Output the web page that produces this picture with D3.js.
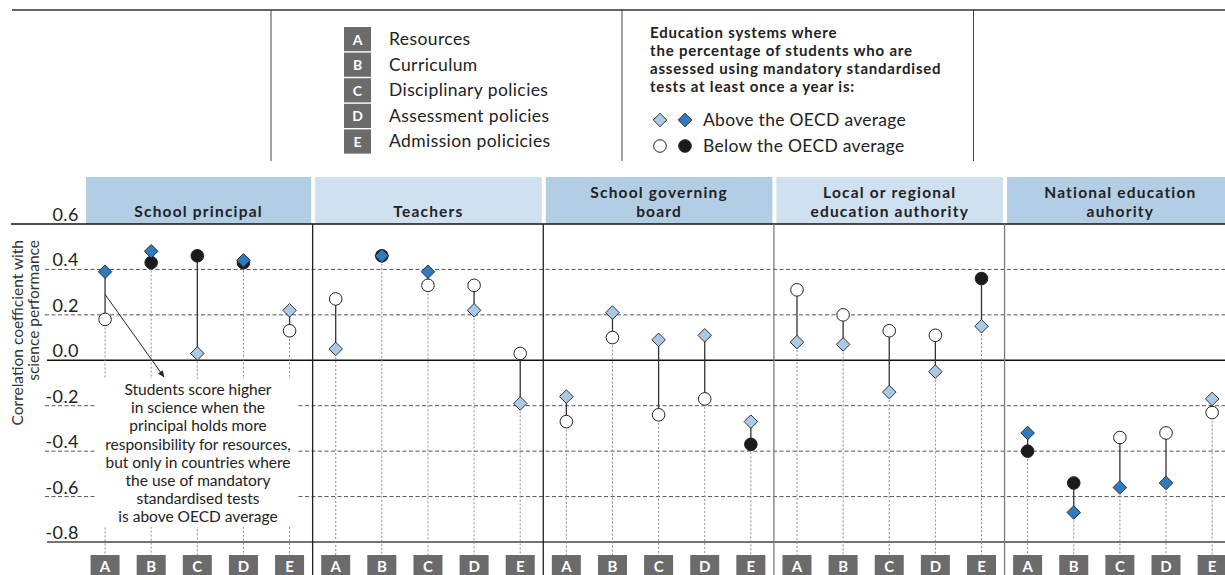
<!DOCTYPE html>
<html>
<head>
<meta charset="utf-8">
<script src="https://cdn.jsdelivr.net/npm/d3@7"></script>
<style>
  html, body { margin: 0; padding: 0; background: #fff; }
  svg { display: block; font-family: Lato, "Open Sans", sans-serif; }
</style>
</head>
<body>
<svg id="chart" width="1225" height="575"></svg>
<script>
// Policy areas (A–E) and who holds responsibility for them
const categories = ["A", "B", "C", "D", "E"];
const categoryNames = ["Resources", "Curriculum", "Disciplinary policies", "Assessment policies", "Admission policicies"];
const actors = ["School principal", "Teachers", "School governing board", "Local or regional education authority", "National education auhority"];
const actorHeaderLines = [["School principal"], ["Teachers"], ["School governing", "board"], ["Local or regional", "education authority"], ["National education", "auhority"]];

// Correlation with science performance, systems above the OECD average in use of mandatory tests
const aboveValues = [
  [0.39, 0.48, 0.03, 0.44, 0.22],
  [0.05, 0.46, 0.39, 0.22, -0.19],
  [-0.16, 0.21, 0.09, 0.11, -0.27],
  [0.08, 0.07, -0.14, -0.05, 0.15],
  [-0.32, -0.67, -0.56, -0.54, -0.17]
];
const aboveSignificant = [
  [1, 1, 0, 1, 0],
  [0, 1, 1, 0, 0],
  [0, 0, 0, 0, 0],
  [0, 0, 0, 0, 0],
  [1, 1, 1, 1, 0]
];
// Same, systems below the OECD average
const belowValues = [
  [0.18, 0.43, 0.46, 0.43, 0.13],
  [0.27, 0.46, 0.33, 0.33, 0.03],
  [-0.27, 0.10, -0.24, -0.17, -0.37],
  [0.31, 0.20, 0.13, 0.11, 0.36],
  [-0.40, -0.54, -0.34, -0.32, -0.23]
];
const belowSignificant = [
  [0, 1, 1, 1, 0],
  [0, 1, 0, 0, 0],
  [0, 0, 0, 0, 1],
  [0, 0, 0, 0, 1],
  [1, 1, 0, 0, 0]
];

const yTicks = [0.6, 0.4, 0.2, 0.0, -0.2, -0.4, -0.6, -0.8];
const yTickLabels = ["0.6", "0.4", "0.2", "0.0", "-0.2", "-0.4", "-0.6", "-0.8"];
const yTitleLines = ["Correlation coefficient with", "science performance"];
const annotationLines = [
  "Students score higher", "in science when the", "principal holds more",
  "responsibility for resources,", "but only in countries where",
  "the use of mandatory", "standardised tests", "is above OECD average"
];
const legendHeading = ["Education systems where", "the percentage of students who are", "assessed using mandatory standardised", "tests at least once a year is:"];
const legendSeries = ["Above the OECD average", "Below the OECD average"];

const colors = {
  lightDiamond: "#a9c9e6",
  darkDiamond: "#2f7bbd",
  whiteCircle: "#ffffff",
  blackCircle: "#1b1b1b",
  headerDark: "#b2cee5",
  headerLight: "#cfe1f0",
  tagBox: "#6b6b6b",
  text: "#222"
};

const W = 1225;
const svg = d3.select("#chart");

// Scales
const xPanel = d3.scaleBand().domain(actors).range([82, 1235.2]);
const xCat = d3.scaleBand().domain(categories).range([0, xPanel.bandwidth()]);
const cx = (a, c) => xPanel(actors[a]) + xCat(categories[c]) + xCat.bandwidth() / 2;
const y = d3.scaleLinear().domain([-0.8, 0.6]).range([542, 224]);

// Marker shapes: a square turned 45 degrees, and a circle
const diamondPath = d3.symbol().type(d3.symbolSquare).size(92)();
function drawDiamond(g, x, yy, fill) {
  g.append("path").attr("d", diamondPath).attr("transform", `translate(${x},${yy}) rotate(45)`)
    .attr("fill", fill).attr("stroke", "#2a2a2a").attr("stroke-width", 0.9);
}
function drawCircle(g, x, yy, fill) {
  g.append("circle").attr("cx", x).attr("cy", yy).attr("r", 6.3)
    .attr("fill", fill).attr("stroke", "#222").attr("stroke-width", 1);
}

// ---------- Legend block ----------
svg.append("line").attr("x1", 12).attr("x2", W).attr("y1", 10).attr("y2", 10)
  .attr("stroke", "#333").attr("stroke-width", 1.5);
[271, 622, 973.5].forEach(x => {
  svg.append("line").attr("x1", x).attr("x2", x).attr("y1", 10).attr("y2", 161)
    .attr("stroke", "#444").attr("stroke-width", 1);
});

const leg1 = svg.append("g");
categories.forEach((c, i) => {
  const top = 27 + i * 25.6;
  leg1.append("rect").attr("x", 344).attr("y", top).attr("width", 27).attr("height", 24.2)
    .attr("fill", colors.tagBox);
  leg1.append("text").attr("x", 357.5).attr("y", top + 17.5).attr("text-anchor", "middle")
    .attr("fill", "#fff").attr("font-weight", "bold").attr("font-size", 14).text(c);
  leg1.append("text").attr("x", 389).attr("y", top + 18).attr("fill", colors.text)
    .attr("font-size", 17.5).attr("letter-spacing", 0.4).text(categoryNames[i]);
});

const leg2 = svg.append("g");
const heading = leg2.append("text").attr("fill", colors.text)
  .attr("font-weight", "bold").attr("font-size", 15).attr("letter-spacing", 0.8);
legendHeading.forEach((t, i) => {
  heading.append("tspan").attr("x", 650).attr("y", 38 + i * 18).text(t);
});
drawDiamond(leg2, 660, 120, colors.lightDiamond);
drawDiamond(leg2, 685, 120, colors.darkDiamond);
drawCircle(leg2, 660, 146, colors.whiteCircle);
drawCircle(leg2, 685, 146, colors.blackCircle);
legendSeries.forEach((t, i) => {
  leg2.append("text").attr("x", 703).attr("y", 126 + i * 26).attr("fill", colors.text)
    .attr("font-size", 17.5).attr("letter-spacing", 0.3).text(t);
});

// ---------- Panel headers ----------
actors.forEach((a, i) => {
  const x0 = xPanel(a);
  const left = i === 0 ? x0 + 4 : x0 + 2.5;
  const right = x0 + xPanel.bandwidth() - 1.5;
  svg.append("rect").attr("x", left).attr("y", 177).attr("width", right - left).attr("height", 47)
    .attr("fill", i % 2 === 0 ? colors.headerDark : colors.headerLight);
  const lines = actorHeaderLines[i];
  const mid = (left + right) / 2;
  const label = svg.append("text").attr("text-anchor", "middle").attr("font-weight", "bold")
    .attr("font-size", 15.5).attr("letter-spacing", 1.2).attr("fill", colors.text);
  lines.forEach((t, j) => {
    label.append("tspan").attr("x", mid).attr("y", 217 - (lines.length - 1 - j) * 18.7).text(t);
  });
});

// ---------- Gridlines and axis ----------
const grid = svg.append("g");
yTicks.forEach((v, i) => {
  const yy = y(v);
  let x1 = 45, stroke = "#555", dash = "4,2.5", sw = 1;
  if (v === 0.6) { x1 = 11; stroke = "#111"; dash = null; sw = 1.4; }
  else if (v === 0) { x1 = 47; stroke = "#111"; dash = null; sw = 1.4; }
  else if (v === -0.8) { x1 = 47; stroke = "#444"; dash = null; sw = 1.4; }
  grid.append("line").attr("x1", x1).attr("x2", W).attr("y1", yy).attr("y2", yy)
    .attr("stroke", stroke).attr("stroke-width", sw).attr("stroke-dasharray", dash);
  grid.append("text").attr("x", v < 0 ? 45.5 : 52.5).attr("y", yy - 3)
    .attr("font-size", 18).attr("letter-spacing", 0.4).attr("fill", colors.text).text(yTickLabels[i]);
});

// Y-axis title
const yTitle = svg.append("g").attr("transform", "translate(0,240) rotate(-90)");
yTitleLines.forEach((t, i) => {
  yTitle.append("text").attr("x", 0).attr("y", 22.5 + i * 16.8).attr("text-anchor", "end")
    .attr("font-size", 15.5).attr("fill", "#333").text(t);
});

// ---------- Dotted drop lines and connectors ----------
const marks = svg.append("g");
actors.forEach((a, i) => {
  categories.forEach((c, j) => {
    const x = cx(i, j);
    const ya = y(aboveValues[i][j]), yb = y(belowValues[i][j]);
    const lower = Math.max(ya, yb);
    marks.append("line").attr("x1", x).attr("x2", x).attr("y1", lower).attr("y2", 556)
      .attr("stroke", "#8a8a8a").attr("stroke-width", 1).attr("stroke-dasharray", "2,2");
  });
});

// Annotation panel (white block behind the note)
svg.append("rect").attr("x", 97).attr("y", 379).attr("width", 201).attr("height", 148).attr("fill", "#fff");

actors.forEach((a, i) => {
  categories.forEach((c, j) => {
    const x = cx(i, j);
    marks.append("line").attr("x1", x).attr("x2", x)
      .attr("y1", y(aboveValues[i][j])).attr("y2", y(belowValues[i][j]))
      .attr("stroke", "#333").attr("stroke-width", 1.3);
  });
});

// ---------- Panel separators ----------
actors.slice(1).forEach((a, i) => {
  const x = xPanel(a);
  svg.append("line").attr("x1", x).attr("x2", x).attr("y1", 224).attr("y2", 575)
    .attr("stroke", i < 2 ? "#222" : "#7a7a7a").attr("stroke-width", 1.3);
});

// ---------- Markers ----------
const pts = svg.append("g");
actors.forEach((a, i) => {
  categories.forEach((c, j) => {
    drawCircle(pts, cx(i, j), y(belowValues[i][j]),
      belowSignificant[i][j] ? colors.blackCircle : colors.whiteCircle);
  });
});
actors.forEach((a, i) => {
  categories.forEach((c, j) => {
    drawDiamond(pts, cx(i, j), y(aboveValues[i][j]),
      aboveSignificant[i][j] ? colors.darkDiamond : colors.lightDiamond);
  });
});

// ---------- Category tags along the bottom ----------
actors.forEach((a, i) => {
  categories.forEach((c, j) => {
    const x = cx(i, j);
    svg.append("rect").attr("x", x - 14.5).attr("y", 555).attr("width", 29).attr("height", 22)
      .attr("fill", colors.tagBox);
    svg.append("text").attr("x", x).attr("y", 571.5).attr("text-anchor", "middle")
      .attr("fill", "#fff").attr("font-weight", "bold").attr("font-size", 15).text(c);
  });
});

// ---------- Note with arrow ----------
svg.append("defs").append("marker").attr("id", "arrowHead")
  .attr("viewBox", "0 0 10 10").attr("refX", 9).attr("refY", 5)
  .attr("markerWidth", 7).attr("markerHeight", 7).attr("orient", "auto")
  .append("path").attr("d", "M0,1 L10,5 L0,9 Z").attr("fill", "#222");
svg.append("line").attr("x1", cx(0, 0)).attr("y1", y(0.29)).attr("x2", 164).attr("y2", 377)
  .attr("stroke", "#222").attr("stroke-width", 1).attr("marker-end", "url(#arrowHead)");

annotationLines.forEach((t, i) => {
  svg.append("text").attr("x", 198).attr("y", 395 + i * 18.2).attr("text-anchor", "middle")
    .attr("font-size", 15.5).attr("fill", colors.text).text(t);
});
</script>
</body>
</html>
